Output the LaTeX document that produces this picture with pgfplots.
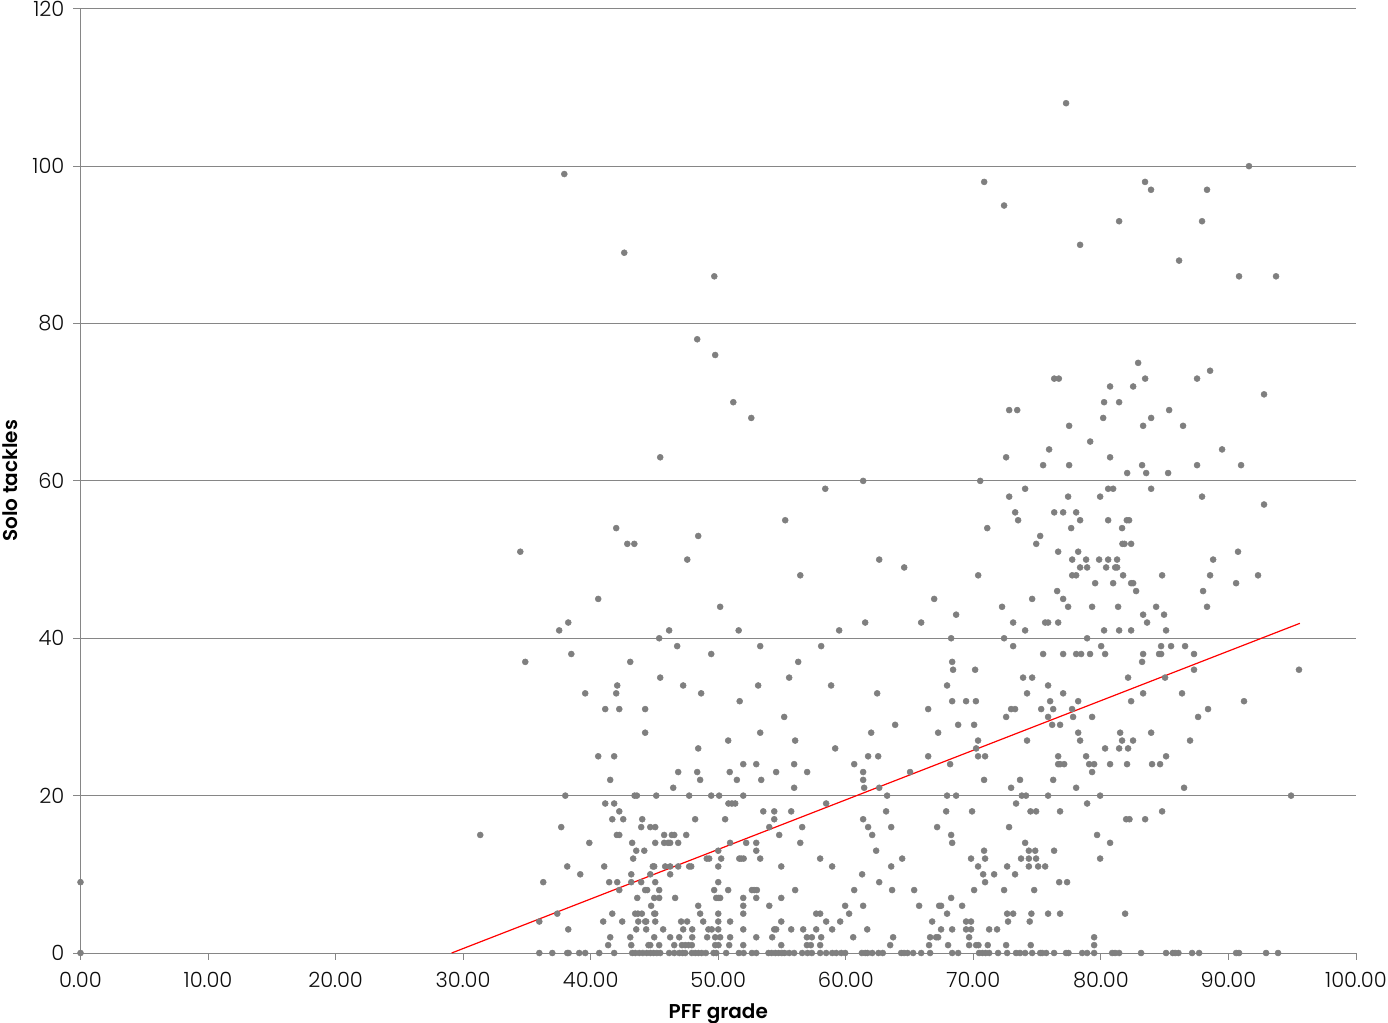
\documentclass[border=0pt]{standalone}
\usepackage{pgfplots}
\pgfplotsset{compat=1.18}
\usepackage{fontspec}
\setmainfont{Poppins}[UprightFont=* Light,BoldFont=* SemiBold]
\definecolor{axisgray}{HTML}{868686}
\definecolor{markgray}{HTML}{7F7F7F}
\begin{document}
\begin{tikzpicture}
\path[use as bounding box] (-40.25pt,-35pt) rectangle (653.75pt,476.5pt);
\begin{axis}[
  scale only axis,
  width=637.75pt,
  height=472.1pt,
  xmin=0, xmax=100,
  ymin=0, ymax=120,
  xtick={0,10,...,100},
  ytick={0,20,...,120},
  axis x line=bottom,
  axis y line=left,
  axis line style={-,draw=axisgray,line width=0.5pt},
  tick style={draw=axisgray,line width=0.5pt},
  tick align=outside,
  major tick length=3.5pt,
  ymajorgrids,
  grid style={draw=axisgray,line width=0.5pt},
  clip=false,
  tick label style={font=\fontsize{10.5}{12}\selectfont,text=black!95},
  /pgf/number format/assume math mode=true,
  xticklabel style={/pgf/number format/fixed,/pgf/number format/fixed zerofill,/pgf/number format/precision=2,yshift=-2.5pt},
  yticklabel style={xshift=-1pt},
  xlabel={\textbf{PFF grade}},
  ylabel={\textbf{Solo tackles}},
  label style={font=\fontsize{10}{12}\selectfont},
  xlabel style={at={(axis description cs:0.5,0)},anchor=north,yshift=-22pt},
  ylabel style={at={(axis description cs:0,0.5)},anchor=south,yshift=28pt},
]
\addplot[only marks,color=markgray,mark=*,mark size=1.5pt,line width=0.25pt] coordinates {
(0,9)(0,0)
(37.93,99)(42.63,89)(49.69,86)(48.35,78)(49.76,76)(51.18,70)(52.59,68)(45.45,63)(34.48,51)(42.0,54)(42.87,52)(43.42,52)(47.57,50)(48.43,53)
(55.25,55)(58.39,59)(56.43,48)(61.36,60)(62.62,50)(64.58,49)
(70.85,98)(72.41,95)(77.27,108)(78.37,90)(81.43,93)(83.46,98)(83.93,97)(86.13,88)(88.32,97)(87.93,93)(91.61,100)(90.83,86)(93.73,86)
(82.92,75)(88.56,74)(76.34,73)(76.7,73)(83.47,73)(87.54,73)(80.72,72)(82.53,72)(92.79,71)(80.25,70)(81.43,70)
(72.81,69)(73.44,69)(85.35,69)(80.18,68)(83.94,68)(77.51,67)(83.31,67)(86.44,67)(79.16,65)(75.94,64)(89.5,64)(72.57,63)(80.72,63)
(75.47,62)(77.51,62)(83.23,62)(87.54,62)(90.99,62)(82.06,61)(83.55,61)(85.27,61)(70.54,60)
(74.06,59)(80.57,59)(80.96,59)(83.94,59)(72.81,58)(77.43,58)(79.94,58)(87.93,58)(92.79,57)
(73.28,56)(76.34,56)(77.04,56)(78.06,56)(73.51,55)(78.37,55)(80.57,55)(82.03,55)(82.21,55)
(71.09,54)(77.67,54)(81.66,54)(75.24,53)(74.93,52)(81.69,52)(81.85,52)(82.37,52)(76.65,51)(78.22,51)(90.75,51)
(77.75,50)(78.84,50)(79.86,50)(80.57,50)(81.27,50)(88.8,50)(78.37,49)(78.92,49)(80.41,49)(81.12,49)(81.27,49)
(70.38,48)(77.75,48)(78.06,48)(81.74,48)(84.8,48)(88.56,48)(92.32,48)(79.55,47)(80.96,47)(82.37,47)(82.53,47)(90.6,47)
(76.57,46)(82.76,46)(88.01,46)(40.59,45)(66.93,45)(74.61,45)(77.04,45)
(50.15,44)(72.25,44)(77.43,44)(79.31,44)(81.35,44)(84.33,44)(88.32,44)(68.65,43)(83.31,43)(84.95,43)
(38.24,42)(61.52,42)(65.91,42)(73.12,42)(75.63,42)(75.86,42)(76.65,42)(83.62,42)
(37.53,41)(46.15,41)(51.6,41)(59.48,41)(74.06,41)(80.25,41)(81.43,41)(82.37,41)(85.11,41)
(45.37,40)(68.26,40)(72.41,40)(78.92,40)
(46.78,39)(53.29,39)(58.07,39)(73.12,39)(80.02,39)(84.72,39)(85.5,39)(86.6,39)
(38.48,38)(49.45,38)(75.47,38)(77.04,38)(78.06,38)(78.45,38)(79.15,38)(80.33,38)(83.31,38)(84.56,38)(84.72,38)(87.3,38)
(34.87,37)(43.1,37)(56.27,37)(68.34,37)(83.23,37)(68.41,36)(70.14,36)(87.3,36)(95.53,36)
(45.45,35)(55.56,35)(73.9,35)(74.61,35)(82.13,35)(85.03,35)
(42.08,34)(47.25,34)(53.13,34)(58.85,34)(67.94,34)(75.86,34)
(39.57,33)(42.0,33)(48.66,33)(62.46,33)(74.21,33)(77.04,33)(83.31,33)(86.36,33)
(51.68,32)(68.34,32)(69.43,32)(70.2,32)(76.02,32)(78.22,32)(82.37,32)(91.22,32)
(41.14,31)(42.24,31)(44.27,31)(66.46,31)(72.96,31)(73.27,31)(75.32,31)(76.26,31)(77.74,31)(88.4,31)
(55.17,30)(72.57,30)(75.86,30)(77.82,30)(79.31,30)(87.62,30)
(63.87,29)(68.81,29)(70.06,29)(76.18,29)(76.8,29)
(44.27,28)(53.29,28)(61.99,28)(67.24,28)(78.22,28)(81.51,28)(83.94,28)
(50.78,27)(56.03,27)(70.37,27)(74.21,27)(78.37,27)(81.66,27)(82.52,27)(86.99,27)
(48.43,26)(59.17,26)(70.22,26)(80.33,26)(81.43,26)(82.13,26)
(40.59,25)(41.84,25)(61.75,25)(62.54,25)(66.46,25)(70.37,25)(70.92,25)(76.65,25)(78.84,25)(85.11,25)
(51.96,24)(52.98,24)(55.95,24)(60.66,24)(68.18,24)(76.65,24)(76.8,24)(77.12,24)(79.08,24)(79.47,24)(80.72,24)(82.05,24)(84.01,24)(84.64,24)
(46.86,23)(48.35,23)(50.9,23)(54.54,23)(56.97,23)(61.36,23)(65.04,23)(79.31,23)
(41.53,22)(48.58,22)(51.46,22)(53.37,22)(61.36,22)(70.84,22)(73.66,22)(76.26,22)
(46.47,21)(55.95,21)(61.44,21)(62.62,21)(72.96,21)(78.06,21)(86.52,21)
(38.01,20)(43.44,20)(43.62,20)(45.14,20)(47.72,20)(49.45,20)(50.07,20)(51.96,20)(63.24,20)(67.94,20)(68.65,20)(73.8,20)(74.13,20)(75.86,20)(79.94,20)(94.91,20)
(41.14,19)(41.84,19)(50.8,19)(51.07,19)(51.33,19)(58.46,19)(73.35,19)(78.92,19)
(42.24,18)(53.53,18)(54.39,18)(55.72,18)(63.16,18)(67.87,18)(69.9,18)(74.48,18)(74.92,18)(76.8,18)(84.8,18)
(41.69,17)(42.55,17)(44.04,17)(48.19,17)(50.54,17)(54.39,17)(61.36,17)(81.98,17)(82.24,17)(83.47,17)
(37.69,16)(43.96,16)(44.67,16)(45.06,16)(54.0,16)(56.58,16)(61.75,16)(63.56,16)(67.16,16)(72.8,16)
(31.34,15)(42.05,15)(42.24,15)(45.76,15)(46.36,15)(46.55,15)(47.49,15)(54.78,15)(62.07,15)(68.26,15)(79.7,15)
(39.89,14)(43.25,14)(45.06,14)(45.76,14)(46.07,14)(46.23,14)(46.86,14)(50.93,14)(52.19,14)(52.98,14)(56.43,14)(68.34,14)(74.06,14)(80.72,14)
(43.57,13)(44.2,13)(50.0,13)(52.98,13)(62.38,13)(70.84,13)(74.35,13)(74.85,13)(76.33,13)
(43.33,12)(49.1,12)(49.29,12)(50.23,12)(51.65,12)(51.8,12)(51.99,12)(53.29,12)(57.99,12)(64.42,12)(69.82,12)(70.92,12)(73.74,12)(74.35,12)(74.92,12)(79.94,12)
(38.16,11)(41.06,11)(44.87,11)(44.98,11)(45.84,11)(46.23,11)(46.86,11)(47.72,11)(47.88,11)(50.0,11)(54.94,11)(58.93,11)(63.56,11)(70.37,11)(72.65,11)(74.35,11)(75.08,11)(75.63,11)
(39.18,10)(43.18,10)(44.67,10)(46.23,10)(61.28,10)(70.77,10)(71.63,10)(73.27,10)
(36.28,9)(41.45,9)(42.08,9)(43.18,9)(43.96,9)(45.06,9)(50.0,9)(62.62,9)(70.92,9)(76.73,9)(77.35,9)
(42.24,8)(44.27,8)(44.43,8)(45.37,8)(49.68,8)(50.78,8)(52.64,8)(52.82,8)(53.03,8)(56.03,8)(60.66,8)(63.63,8)(65.36,8)(70.06,8)(72.41,8)(74.77,8)
(43.65,7)(44.98,7)(45.37,7)(46.62,7)(49.84,7)(50.0,7)(50.15,7)(51.96,7)(52.98,7)(54.94,7)(68.26,7)
(44.74,6)(48.43,6)(51.96,6)(54.0,6)(59.95,6)(61.36,6)(65.75,6)(67.32,6)(67.47,6)(69.12,6)
(37.38,5)(41.69,5)(43.49,5)(43.7,5)(44.01,5)(44.98,5)(45.06,5)(48.58,5)(50.0,5)(51.96,5)(57.68,5)(57.99,5)(60.26,5)(67.94,5)(72.65,5)(73.12,5)(74.55,5)(75.86,5)(76.8,5)(81.9,5)
(35.97,4)(40.98,4)(42.47,4)(43.73,4)(44.27,4)(44.35,4)(45.06,4)(47.09,4)(47.56,4)(48.82,4)(50.0,4)(50.93,4)(54.94,4)(58.46,4)(59.56,4)(66.77,4)(69.43,4)(69.82,4)(72.72,4)(74.42,4)
(38.24,3)(43.57,3)(44.35,3)(45.68,3)(47.25,3)(47.96,3)(49.23,3)(49.49,3)(50.0,3)(51.96,3)(54.39,3)(54.54,3)(55.72,3)(56.66,3)(57.68,3)(58.93,3)(61.68,3)(67.47,3)(68.34,3)(69.43,3)(69.82,3)(71.24,3)(71.86,3)
(41.53,2)(43.1,2)(44.98,2)(46.23,2)(46.94,2)(47.96,2)(49.13,2)(49.76,2)(50.15,2)(50.93,2)(52.98,2)(54.23,2)(56.95,2)(57.34,2)(58.07,2)(60.58,2)(63.71,2)(66.61,2)(67.08,2)(67.24,2)(69.67,2)(79.47,2)
(41.37,1)(43.18,1)(44.53,1)(44.67,1)(45.37,1)(46.55,1)(47.15,1)(47.41,1)(47.67,1)(47.93,1)(49.76,1)(50.02,1)(50.86,1)(51.96,1)(54.94,1)(56.95,1)(57.26,1)(57.99,1)(63.48,1)(66.53,1)(68.02,1)(69.67,1)(70.22,1)(70.4,1)(71.13,1)(72.57,1)(74.5,1)(79.47,1)
(35.97,0)(36.99,0)(38.16,0)(38.27,0)(39.1,0)(39.57,0)(40.67,0)(41.84,0)(43.25,0)(43.49,0)(43.8,0)(44.09,0)(44.4,0)(44.67,0)(44.93,0)(45.19,0)(45.45,0)(46.15,0)(46.55,0)(46.94,0)(47.2,0)(47.41,0)(47.93,0)(48.19,0)(48.45,0)(48.71,0)(49.03,0)(49.63,0)(49.84,0)(50.62,0)(51.62,0)(51.99,0)(52.64,0)(52.98,0)(53.94,0)(54.2,0)(54.47,0)(54.73,0)(54.99,0)(55.2,0)(55.56,0)(55.95,0)(56.58,0)(57.0,0)(57.34,0)(57.99,0)(58.46,0)(58.93,0)(59.25,0)(59.64,0)(59.95,0)(61.26,0)(61.52,0)(61.7,0)(62.07,0)(62.56,0)(62.9,0)(64.34,0)(64.57,0)(64.84,0)(65.28,0)(65.91,0)(66.61,0)(68.34,0)(68.81,0)(70.45,0)(70.71,0)(70.97,0)(71.24,0)(71.94,0)(72.65,0)(73.35,0)(73.66,0)(74.06,0)(74.61,0)(75.24,0)(75.39,0)(75.71,0)(76.33,0)(77.27,0)(77.46,0)(78.53,0)(78.92,0)(79.47,0)(80.88,0)(81.11,0)(81.43,0)(83.15,0)(85.11,0)(85.63,0)(85.82,0)(86.08,0)(87.15,0)(87.7,0)(90.6,0)(90.83,0)(92.95,0)(93.89,0)
};
\addplot[red,line width=0.6pt] coordinates {(29.1,0)(95.6,41.9)};
\end{axis}
\end{tikzpicture}
\end{document}
